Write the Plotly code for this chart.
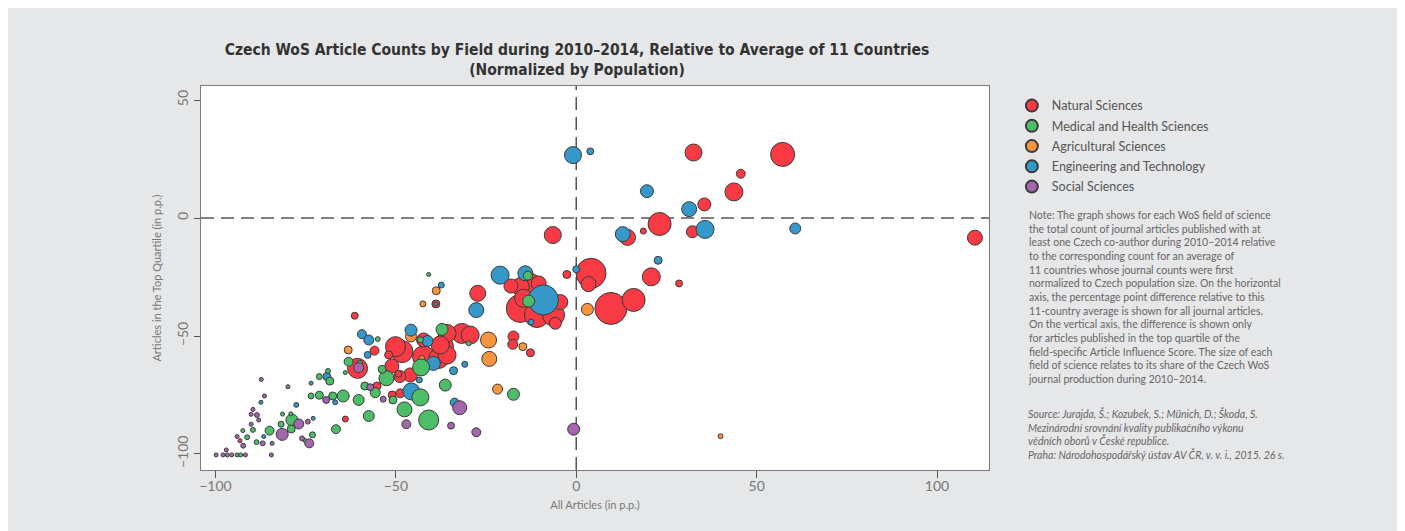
import plotly.graph_objects as go
import numpy as np

categories = ["Natural Sciences", "Medical and Health Sciences", "Agricultural Sciences",
              "Engineering and Technology", "Social Sciences"]
colors = ["#f83a44", "#4dbd67", "#f7953e", "#3598c9", "#a466ad"]

# x: All articles (p.p.), y: top-quartile articles (p.p.), share: field share of Czech output (per mille)
nat_x = [32.5, 57.2, 45.6, 43.7, 35.5, 23.1, 18.6, 14.2, 32.2, 110.5, 4.1, 20.8, 28.5, 3.4, 9.6, 15.9,
         -6.5, -18.1, -15.5, -12.7, -10.4, -27.3, -15.5, -10.9, -6.3, -4.4, -5.8, -14.6, -2.6,
         -17.4, -17.6, -12.7, -38.9, -61.4, -55.9, -60.6, -51.1, -48.9, -48.3, -50.1, -42.3,
         -36.8, -38.1, -42.3, -35.8, -31.7, -29.4, -35.8, -37.7, -46.0, -52.0, -55.2, -48.8,
         -51.0, -64.0, -93.2, -49.3]
nat_y = [27.8, 27.0, 18.8, 11.1, 5.8, -2.5, -5.5, -8.2, -5.8, -8.3, -23.4, -24.9, -27.7, -28.0, -38.3, -34.7,
         -7.2, -28.8, -29.1, -27.7, -27.7, -31.9, -38.3, -41.1, -41.1, -35.6, -44.6, -34.0, -23.9,
         -50.2, -53.5, -57.1, -36.4, -41.4, -56.2, -63.7, -62.7, -67.2, -56.6, -54.5, -51.7,
         -54.5, -59.5, -58.8, -58.1, -48.9, -49.6, -48.9, -53.8, -66.5, -58.0, -71.2, -74.3,
         -75.0, -85.2, -94.4, -66.0]
nat_s = [7.2, 14.4, 2.0, 8.1, 4.2, 13.2, 0.9, 6.4, 3.6, 5.6, 22.5, 8.1, 1.2, 5.6, 25.6, 13.2,
         7.2, 4.9, 8.1, 10.0, 5.6, 6.4, 19.6, 15.6, 12.1, 5.6, 3.6, 8.1, 1.6,
         3.0, 2.5, 1.6, 1.6, 1.2, 2.0, 10.0, 4.9, 3.6, 12.1, 10.0, 4.9,
         10.0, 10.0, 12.1, 8.1, 10.0, 8.1, 8.1, 8.1, 4.9, 1.6, 1.6, 2.0,
         1.6, 0.9, 0.4, 1.2]

med_x = [-13.4, -13.2, -37.2, -29.8, -40.9, -55.0, -63.1, -53.8, -52.6, -43.2, -43.0, -17.4, -36.3,
         -43.2, -50.8, -47.6, -40.9, -57.5, -60.3, -55.7, -58.6, -64.6, -67.5, -71.2, -73.5, -71.2,
         -68.3, -68.8, -64.0, -66.6, -73.1, -78.8, -79.0, -81.8, -81.4, -85.0, -88.6, -91.2, -92.4,
         -89.6, -75.2, -60.0, -94.0, -93.0, -79.1]
med_y = [-24.4, -35.2, -47.2, -53.1, -23.9, -51.3, -60.9, -64.1, -67.9, -51.6, -63.3, -74.7, -70.8,
         -76.0, -77.1, -81.1, -85.6, -83.9, -77.1, -74.0, -71.2, -75.4, -75.4, -75.1, -75.4, -67.2,
         -69.1, -64.8, -65.5, -89.5, -91.9, -85.6, -89.4, -87.4, -83.1, -90.1, -95.0, -92.9, -90.1,
         -89.8, -94.3, -61.6, -100.4, -100.4, -83.0]
med_s = [2.0, 3.6, 3.6, 0.6, 0.2, 0.6, 2.0, 1.6, 5.6, 0.9, 7.2, 3.6, 3.6,
         7.2, 1.6, 5.6, 10.0, 3.0, 3.0, 2.5, 1.6, 3.6, 1.6, 1.6, 0.9, 0.9,
         1.6, 0.6, 0.4, 2.0, 0.9, 3.6, 1.6, 0.9, 0.4, 2.0, 0.6, 0.6, 0.2,
         0.6, 0.4, 0.9, 0.2, 0.2, 0.4]

agr_x = [3.1, 40.0, -24.3, -14.8, -38.8, -42.5, -63.2, -42.8, -24.1, -21.8, -45.8]
agr_y = [-38.7, -92.5, -51.7, -54.5, -30.8, -36.4, -55.9, -59.6, -59.7, -72.5, -50.2]
agr_s = [3.6, 0.6, 6.4, 1.6, 1.6, 0.9, 1.6, 0.9, 5.6, 2.5, 3.0]

eng_x = [-0.9, 3.9, 19.6, 31.3, 12.9, 35.7, 60.7, 22.7, 0.0, -21.1, -14.1, -27.7, -9.1, -12.5,
         -37.4, -38.9, -59.4, -57.5, -57.8, -41.2, -39.6, -43.5, -34.0, -30.9, -45.7, -33.7,
         -45.8, -69.1, -66.8, -73.5, -77.6, -87.4, -72.9, -86.6]
eng_y = [26.7, 28.3, 11.4, 3.8, -6.8, -4.8, -4.4, -17.9, -21.7, -24.2, -23.4, -39.0, -34.7, -44.1,
         -28.4, -36.4, -49.2, -51.7, -58.0, -52.1, -61.6, -68.6, -64.7, -62.0, -73.5, -78.2,
         -47.5, -67.2, -78.1, -70.0, -79.2, -78.1, -84.9, -92.6]
eng_s = [7.2, 1.2, 4.2, 5.6, 5.6, 8.1, 3.0, 1.6, 1.2, 8.1, 5.6, 5.6, 22.5, 0.9,
         0.9, 0.4, 2.0, 2.5, 1.2, 3.0, 4.9, 0.9, 1.6, 0.9, 7.2, 2.0,
         3.6, 1.6, 0.6, 0.4, 0.6, 0.2, 0.4, 0.4]

soc_x = [-0.7, -60.3, -47.1, -34.7, -27.7, -32.3, -57.1, -53.5, -69.3, -79.9, -87.3, -86.4, -74.0,
         -76.0, -76.9, -81.5, -84.3, -86.9, -92.3, -84.5, -91.7, -96.7, -97.9, -99.8, -90.1, -88.5,
         -88.0, -89.6, -90.1, -74.4, -94.0, -97.0, -95.5]
soc_y = [-89.5, -63.4, -87.4, -88.0, -90.8, -80.4, -71.7, -76.8, -77.1, -71.5, -68.4, -75.4, -95.5,
         -93.4, -87.3, -91.7, -95.5, -95.5, -96.5, -100.4, -100.4, -100.4, -100.4, -100.4, -83.2, -83.5,
         -85.6, -81.1, -87.4, -86.3, -92.6, -98.3, -100.4]
soc_s = [3.6, 2.5, 2.0, 1.2, 2.0, 4.9, 1.2, 0.9, 1.2, 0.2, 0.2, 0.2, 2.0,
         0.6, 2.5, 3.6, 0.4, 0.6, 0.6, 0.4, 0.2, 0.15, 0.15, 0.1, 0.2, 0.6,
         0.4, 0.2, 0.4, 0.6, 0.2, 0.1, 0.1]

series = [(nat_x, nat_y, nat_s), (med_x, med_y, med_s), (agr_x, agr_y, agr_s),
          (eng_x, eng_y, eng_s), (soc_x, soc_y, soc_s)]
draw_order = [0, 2, 3, 1, 4]

note_text = ("Note: The graph shows for each WoS field of science<br>"
             "the total count of journal articles published with at<br>"
             "least one Czech co-author during 2010–2014 relative<br>"
             "to the corresponding count for an average of<br>"
             "11 countries whose journal counts were first<br>"
             "normalized to Czech population size. On the horizontal<br>"
             "axis, the percentage point difference relative to this<br>"
             "11-country average is shown for all journal articles.<br>"
             "On the vertical axis, the difference is shown only<br>"
             "for articles published in the top quartile of the<br>"
             "field-specific Article Influence Score. The size of each<br>"
             "field of science relates to its share of the Czech WoS<br>"
             "journal production during 2010–2014.")
source_text = ("<i>Source: Jurajda, Š.; Kozubek, S.; Münich, D.; Škoda, S.<br>"
               "Mezinárodní srovnání kvality publikačního výkonu<br>"
               "vědních oborů v České republice.<br>"
               "Praha: Národohospodářský ústav AV ČR, v. v. i., 2015. 26 s.</i>")

FONT = "Lato, 'Noto Sans', sans-serif"

fig = go.Figure()
for i in draw_order:
    xs, ys, ss = series[i]
    order = np.argsort(-np.array(ss), kind="stable")
    fig.add_trace(go.Scatter(
        x=np.array(xs)[order], y=np.array(ys)[order], mode="markers",
        name=categories[i], legendrank=i + 1, legendgroup=categories[i],
        marker=dict(size=np.array(ss)[order], sizemode="area", sizeref=0.05, sizemin=2,
                    color=colors[i], opacity=1,
                    line=dict(color="#3a3a3a", width=1)),
    ))

fig.add_shape(type="line", xref="x", yref="paper", x0=0, x1=0, y0=0, y1=1,
              line=dict(color="#555555", width=1.5, dash="13px,7px"), layer="below")
fig.add_shape(type="line", xref="paper", yref="y", x0=0, x1=1, y0=0, y1=0,
              line=dict(color="#555555", width=1.5, dash="13px,7px"), layer="below")

fig.add_annotation(text=note_text, xref="paper", yref="paper", x=1.047, y=0.685,
                   xanchor="left", yanchor="top", align="left", showarrow=False,
                   font=dict(family=FONT, size=10.5, color="#666666"))
fig.add_annotation(text=source_text, xref="paper", yref="paper", x=1.047, y=0.169,
                   xanchor="left", yanchor="top", align="left", showarrow=False,
                   font=dict(family=FONT, size=10.5, color="#666666"))

fig.update_layout(
    width=1405, height=531,
    margin=dict(l=193, r=424, t=78, b=69),
    paper_bgcolor="#e6e7e8", plot_bgcolor="#ffffff",
    font=dict(family=FONT, color="#666666"),
    title=dict(text="<b>Czech WoS Article Counts by Field during 2010–2014, Relative to Average of 11 Countries"
                    "<br>(Normalized by Population)</b>",
               x=0.405, xref="container", xanchor="center",
               y=0.911, yref="container", yanchor="top",
               font=dict(family="'Liberation Sans Narrow', 'DejaVu Sans Condensed', sans-serif",
                         size=15.5, color="#333333")),
    showlegend=True,
    legend=dict(x=1.029, y=0.987, xanchor="left", yanchor="top", bgcolor="rgba(0,0,0,0)",
                itemsizing="constant", traceorder="grouped",
                font=dict(family=FONT, size=12.5, color="#555555"), tracegroupgap=1),
    xaxis=dict(range=[-104, 114.4], tickvals=[-100, -50, 0, 50, 100],
               showgrid=False, zeroline=False, showline=True, mirror=True,
               linecolor="#7a7a7a", linewidth=1, ticks="outside", ticklen=7,
               ticklabelstandoff=-4,
               tickcolor="#555555", tickfont=dict(size=14, color="#777777"),
               title=dict(text="All Articles (in p.p.)", standoff=8,
                          font=dict(size=11, color="#777777"))),
    yaxis=dict(range=[-106.8, 56], tickvals=[-100, -50, 0, 50],
               showgrid=False, zeroline=False, showline=True, mirror=True,
               linecolor="#7a7a7a", linewidth=1, ticks="outside", ticklen=6,
               tickcolor="#555555", tickangle=-90, tickfont=dict(size=14, color="#777777"),
               title=dict(text="Articles in the Top Quartile (in p.p.)", standoff=10,
                          font=dict(size=11, color="#777777"))),
)

fig.write_html("out.html")
